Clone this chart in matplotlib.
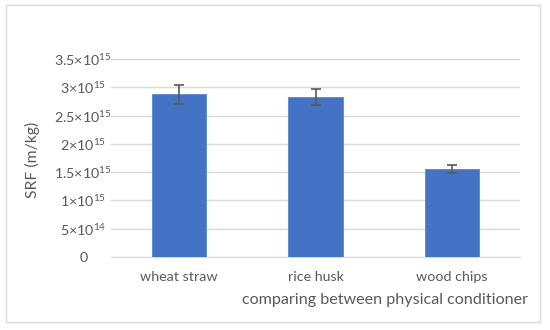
import matplotlib
matplotlib.use("Agg")
import matplotlib.pyplot as plt
from matplotlib.patches import Rectangle

categories = ["wheat straw", "rice husk", "wood chips"]
srf = [2.875e15, 2.83e15, 1.555e15]
srf_err = [0.17e15, 0.14e15, 0.07e15]
yticks = [0, 0.5e15, 1.0e15, 1.5e15, 2.0e15, 2.5e15, 3.0e15, 3.5e15]
ytick_labels = ["0", r"5×10$^{14}$", r"1×10$^{15}$", r"1.5×10$^{15}$", r"2×10$^{15}$",
                r"2.5×10$^{15}$", r"3×10$^{15}$", r"3.5×10$^{15}$"]

plt.rcParams['font.family'] = ['Lato', 'DejaVu Sans']
plt.rcParams['mathtext.fontset'] = 'custom'
plt.rcParams['mathtext.rm'] = 'Lato'
plt.rcParams['mathtext.it'] = 'Lato:italic'
plt.rcParams['mathtext.default'] = 'regular'

W, H = 550, 330
fig = plt.figure(figsize=(5.5, 3.3), dpi=100)
fig.patch.set_facecolor('white')
fig.add_artist(Rectangle((6/W, 1 - 322/H), (540-6)/W, (322-5)/H, transform=fig.transFigure,
                         fill=False, edgecolor='#d9d9d9', linewidth=1))

ax = fig.add_axes([111/W, 1 - 257/H, (520-111)/W, (257-59)/H])
x = range(len(categories))
ax.bar(x, srf, width=0.4, color='#4472c4', edgecolor='#5b86d6', linewidth=0.6, zorder=3,
       yerr=srf_err, error_kw=dict(ecolor='#595959', elinewidth=1.2, capsize=3.5, capthick=1.2, zorder=4))
ax.set_xlim(-0.5, 2.5)
ax.set_ylim(0, 3.5e15)
ax.set_yticks(yticks)
ax.set_yticklabels(ytick_labels)
ax.set_xticks(list(x))
ax.set_xticklabels(categories)
ax.grid(axis='y', color='#d9d9d9', linewidth=1, zorder=0)
for s in ['top', 'right', 'left']:
    ax.spines[s].set_visible(False)
ax.spines['bottom'].set_color('#d9d9d9')
ax.tick_params(axis='both', length=0, colors='#595959', labelsize=10.3)
ax.tick_params(axis='y', pad=20)
ax.tick_params(axis='x', pad=10)
for lab in ax.get_yticklabels():
    lab.set_horizontalalignment('center')

fig.text(32/W, 1 - 160/H, "SRF (m/kg)", rotation=90, ha='center', va='center',
         color='#595959', fontsize=11.3)
fig.text(385/W, 1 - 300/H, "comparing between physical conditioner", ha='center', va='center',
         color='#595959', fontsize=11.6)

fig.savefig("out.png", dpi=100)
